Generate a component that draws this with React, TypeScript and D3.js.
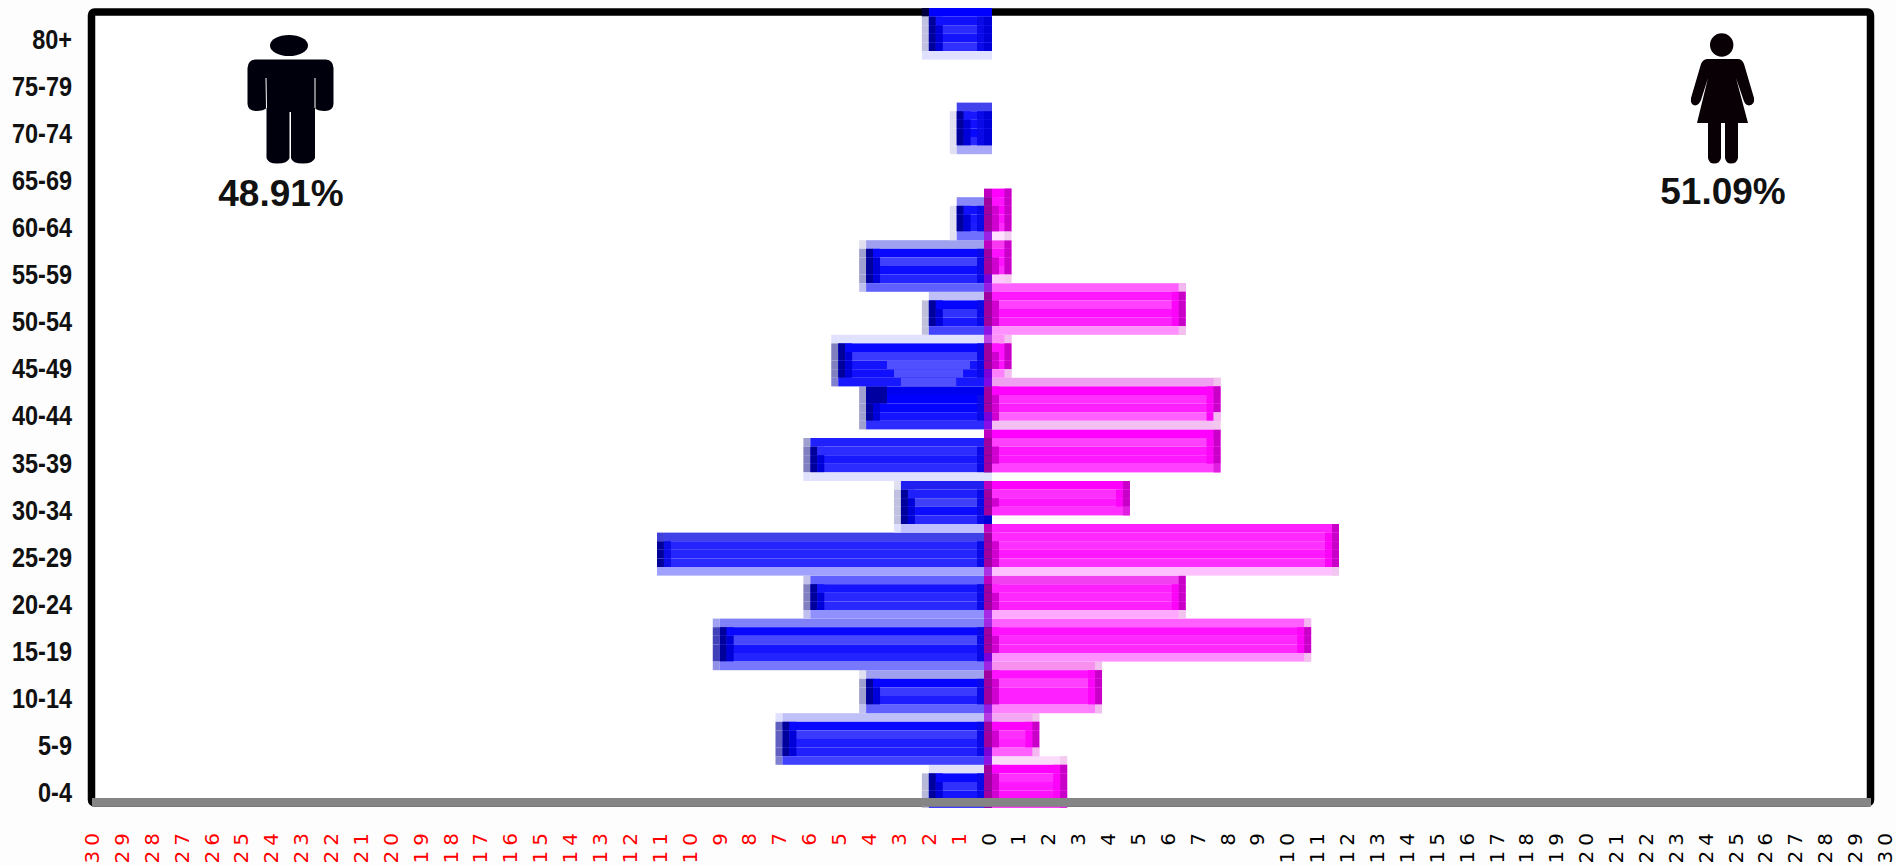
import React from "react";
import * as d3 from "d3";

// ---- data (youngest first) ----
const ageGroups = ["0-4","5-9","10-14","15-19","20-24","25-29","30-34","35-39","40-44","45-49","50-54","55-59","60-64","65-69","70-74","75-79","80+"];
const maleValues =   [2,7,4,9,6,11,3,6,4,5,2,4,1,0,1,0,2];
const femaleValues = [3,2,4,11,7,12,5,8,8,1,7,1,1,0,0,0,0];
const malePct = "48.91%";
const femalePct = "51.09%";
const axisTicks = d3.range(-30, 31);

// ---- look of the low-resolution bitmap: each bar is a stack of coarse pixel rows ----
const maleRowStart =   [88,82,77,71,66,61,55,50,44,38,33,27,22,-1,11,-1,0];
const femaleRowStart = [87,82,76,71,66,60,55,49,43,38,32,27,21,-1,-1,-1,-1];
const maleTones: string[][] = [
  ["#e0e0fa","#0808ff","#3030ff","#1414ff","#1010ff"],
  ["#c0c0f8","#0808ff","#3a3aff","#1c1cff","#2020ff","#4040ff"],
  ["#a0a0f0","#0404ff","#3a3aff","#1c1cff","#6060ff"],
  ["#8080f8","#0808ff","#4848ff","#1414ff","#2424ff","#7878ff"],
  ["#6060ff","#1414ff","#2828ff","#2828ff","#9090ff"],
  ["#4040e8","#2424ff","#2424ff","#2828ff","#a0a0ff"],
  ["#2020f0","#2020ff","#4040f8","#0c0cff","#2828ff","#c0c0ff"],
  ["#2020ff","#2c2cff","#1818ff","#2c2cff","#e0e0ff"],
  ["#0000f0","#0000ff","#0404ff","#1414ff","#2c2cff"],
  ["#e0e0ff","#0808ff","#3a3aff","#1414ff","#1010ff","#1818ff"],
  ["#c0c0f8","#0404ff","#3030ff","#1818ff","#4444ff"],
  ["#a0a0f0","#0808ff","#4040ff","#0c0cff","#2424ff","#6060ff"],
  ["#8888f8","#1010ff","#1818ff","#1c1cff","#7070ff"],
  [],
  ["#4444ee","#1818ff","#1010ff","#0808ff","#2828ff","#a8a8f8"],
  [],
  ["#0000ff","#1010ff","#2c2cff","#1414ff","#3030ff","#e0e0ff"],
];
const maleEdgeTones: (string | null)[][] = [
  [null,"#b8b8d8","#b8b8d8"],
  ["#e0e0ff","#6060c0","#8080d0"],
  ["#e0e0f0","#a0a0d0","#c0c0f0"],
  ["#a0a0f0","#4040b8","#9090e8"],
  ["#c0c0e8","#8080c0","#c0c0f0"],
  ["#4040d8","#000098","#a0a0ff"],
  ["#e0e0f0","#c0c0e0","#e0e0ff"],
  ["#a0a0d0","#8080c0","#e0e0ff"],
  ["#a0a0d0","#a0a0d0","#a0a0d0"],
  ["#e0e0ff","#8080c0","#8080d0"],
  [null,"#c0c0dc","#c0c0dc"],
  ["#e0e0f0","#a0a0d0","#c0c0f0"],
  [null,"#e0e0f0","#e0e0f0"],
  [],
  [null,"#e0e0f0","#e0e0f0"],
  [],
  ["#000040","#c0c0e0","#e0e0ff"],
];
const femaleTones: string[][] = [
  ["#fadcfa","#ff00ff","#ff30ff","#ff18ff","#ff10ff","#ff10ff"],
  ["#f4a8f4","#ff00ff","#ff30ff","#ff20ff","#ff60ff"],
  ["#f890f0","#ff10ff","#ff40ff","#ff20ff","#ff20ff","#ff80ff"],
  ["#ff60ff","#ff10ff","#ff28ff","#ff28ff","#ff90ff"],
  ["#f040f0","#ff20ff","#ff28ff","#ff20ff","#ffa8ff"],
  ["#ff20ff","#ff28ff","#ff30ff","#ff18ff","#ff30ff","#ffc0ff"],
  ["#ff00ff","#ff30ff","#ff18ff","#ff30ff"],
  ["#ff00ff","#ff40ff","#ff18ff","#ff18ff","#ff40ff"],
  ["#f0a0f0","#ff00ff","#ff30ff","#ff20ff","#ff60ff","#f4c0f4"],
  ["#ff90f8","#ff10ff","#ff10ff","#ff10ff","#ff80ff"],
  ["#ff60ff","#ff18ff","#ff40ff","#ff10ff","#ff20ff","#ff90ff"],
  ["#f838f0","#ff10ff","#ff10ff","#ff28ff","#ffc8ff"],
  ["#ff00ff","#ff10ff","#ff00ff","#ff10ff","#ff28ff","#ffe0ff"],
  [],[],[],[],
];

const W = 1896, H = 866;
const cell = 6.97;
const tick = d3.scaleLinear().domain([-30, 30]).range([92, 1885]);
const maleX = d3.scaleLinear().domain([0, 11]).range([980, 657]);
const femaleX = d3.scaleLinear().domain([0, 12]).range([979, 1339]);
const snap = (x: number, anchor: number) => Math.round((x - anchor) / cell) * cell + anchor;
const rowY = d3.scaleLinear().domain([0, 93]).range([8, 807.8]);
const ageY = d3.scalePoint<string>().domain(ageGroups).range([794, 40.5]);
const zeroLeft = 984, zeroRight = 992;

const isPale = (c: string) => { const k = d3.rgb(c); return k.g > 0x58; };

function MaleBar({ i }: { i: number }) {
  const v = maleValues[i];
  if (!v) return null;
  const tones = maleTones[i];
  const [eTop, eMid, eBot] = maleEdgeTones[i];
  const x0 = snap(maleX(v), 657);
  const n = tones.length;
  const darkEdge = eMid === "#000098";
  const out: React.ReactNode[] = [];
  tones.forEach((t, r) => {
    const y0 = rowY(maleRowStart[i] + r), y1 = rowY(maleRowStart[i] + r + 1);
    const h = y1 - y0;
    const first = r === 0, last = r === n - 1, inner = !first && !last;
    const edge = first ? eTop : last ? eBot : eMid;
    if (edge) out.push(<rect key={`e${r}`} x={x0} y={y0} width={cell} height={h} fill={edge} />);
    out.push(<rect key={`b${r}`} x={x0 + cell} y={y0} width={zeroRight - x0 - cell} height={h} fill={t} />);
    if (inner) {
      out.push(<rect key={`d${r}`} x={x0 + cell} y={y0} width={cell} height={h} fill={darkEdge ? "#0c0ce8" : "#00009a"} />);
      if (!darkEdge) out.push(<rect key={`f${r}`} x={x0 + 2 * cell} y={y0} width={cell} height={h} fill={r === 1 ? t : "#0000d8"} />);
      out.push(<rect key={`g${r}`} x={zeroLeft - cell} y={y0} width={cell} height={h} fill="#0a0ae8" />);
      out.push(<rect key={`h${r}`} x={zeroLeft} y={y0} width={zeroRight - zeroLeft} height={h} fill="#0000d8" />);
    }
    // soft lighter patch inside the 45-49 bar
    if (ageGroups[i] === "45-49" && r >= 3) {
      const k = r - 3;
      out.push(<rect key={`p${r}`} x={x0 + (8 + k) * cell} y={y0} width={zeroLeft - x0 - (8 + k) * cell - (2 + k) * cell} height={h} fill="#5050ff" />);
    }
    if (ageGroups[i] === "40-44" && r <= 1) {
      out.push(<rect key={`q${r}`} x={x0 + cell} y={y0} width={3 * cell} height={h} fill="#0000a0" />);
    }
  });
  return <g>{out}</g>;
}

function FemaleBar({ i }: { i: number }) {
  const v = femaleValues[i];
  if (!v) return null;
  const tones = femaleTones[i];
  const x1 = snap(femaleX(v), 1339);
  const n = tones.length;
  const out: React.ReactNode[] = [];
  tones.forEach((t, r) => {
    const y0 = rowY(femaleRowStart[i] + r), y1 = rowY(femaleRowStart[i] + r + 1);
    const h = y1 - y0;
    const pale = isPale(t);
    const first = r === 0, last = r === n - 1;
    out.push(<rect key={`b${r}`} x={zeroRight} y={y0} width={x1 - zeroRight} height={h} fill={t} />);
    if (pale) {
      out.push(<rect key={`z${r}`} x={zeroLeft} y={y0} width={zeroRight - zeroLeft} height={h} fill="#b000d8" opacity={0.7} />);
    } else {
      out.push(<rect key={`z${r}`} x={zeroLeft} y={y0} width={zeroRight - zeroLeft} height={h} fill={first ? "#c000c0" : "#a000a0"} />);
    }
    if (!first && !last) {
      out.push(<rect key={`i${r}`} x={zeroRight} y={y0} width={cell} height={h} fill={r === 1 ? t : "#d000d0"} />);
      if (x1 - zeroRight > 3 * cell) out.push(<rect key={`k${r}`} x={x1 - 2 * cell} y={y0} width={cell} height={h} fill="#fc04f8" />);
    }
    out.push(<rect key={`r${r}`} x={x1 - cell} y={y0} width={cell} height={h} fill={pale ? "#f0c8ec" : last ? "#e020e0" : "#c800c8"} opacity={pale ? 0.85 : 1} />);
  });
  return <g>{out}</g>;
}

const manPath = "M255 59.5 L326 59.5 Q333 60 333.5 68 L333.5 104 Q333 111 325 111 Q317 111 315 108 L315 158 Q313 163.5 303 163.5 Q292 163.5 291 158 L291 112 L289.5 112 L289.5 158 Q288 163.5 277 163.5 Q268 163.5 266.5 158 L266.5 108 Q264 111 256 111 Q248 111 247.5 104 L247.5 68 Q248 60 255 59.5 Z";
const manSeams = "M266 78 L266.5 108 M315 78 L315 108";
const womanPath = "M1708 59 L1738 59 Q1742 59 1744 64 L1754 98 Q1755 105 1749 105.5 Q1745 105 1743.5 100 L1736 78 L1748 123 L1738 123 L1738 158 Q1737 163.5 1731 163.5 Q1726 163.5 1725 158 L1725 123 L1721 123 L1721 158 Q1720 163.5 1714 163.5 Q1709 163.5 1708 158 L1708 123 L1697 123 L1708 78 L1701 100 Q1699 105 1695 105.5 Q1690 105 1691 98 L1701 64 Q1703 59 1708 59 Z";

export default function App() {
  return (
    <svg width={W} height={H} viewBox={`0 0 ${W} ${H}`} style={{ position: "absolute", left: 0, top: 0, background: "#fdfdfd" }}>
      <rect x={91.5} y={12} width={1779} height={791} rx={3} fill="#ffffff" stroke="#000000" strokeWidth={7.5} />

      {ageGroups.map((_, i) => <MaleBar key={i} i={i} />)}
      {ageGroups.map((_, i) => <FemaleBar key={i} i={i} />)}

      <rect x={92} y={798} width={1779} height={8.8} fill="#858585" />

      {ageGroups.map(a => (
        <text key={a} transform={`translate(72,${(ageY(a) as number) + 8.2}) scale(0.87,1)`} textAnchor="end"
          fontFamily="Liberation Sans" fontWeight="bold" fontSize={27} fill="#111">{a}</text>
      ))}

      {axisTicks.map(t => (
        <text key={t} transform={`translate(${tick(t)},833) rotate(-90)`} textAnchor="end" dominantBaseline="central"
          dx={5} fontFamily="DejaVu Sans" fontSize={20} letterSpacing={5} fill={t < 0 ? "#ff0000" : "#000000"}>{Math.abs(t)}</text>
      ))}

      <ellipse cx={289} cy={45.5} rx={19} ry={10.5} fill="#00000c" />
      <path d={manPath} fill="#00000c" />
      <path d={manSeams} fill="none" stroke="#ffffff" strokeWidth={1} />
      <circle cx={1721.7} cy={45} r={11.7} fill="#080004" />
      <path d={womanPath} fill="#080004" />

      <text x={281} y={206} textAnchor="middle" fontFamily="Liberation Sans" fontWeight="bold" fontSize={37} fill="#111">{malePct}</text>
      <text x={1723} y={204} textAnchor="middle" fontFamily="Liberation Sans" fontWeight="bold" fontSize={37} fill="#111">{femalePct}</text>
    </svg>
  );
}
